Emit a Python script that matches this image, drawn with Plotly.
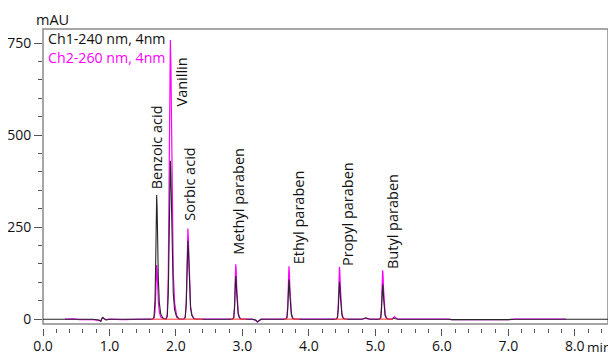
import plotly.graph_objects as go

# ---------------- data ----------------
# Ch1 (240 nm) chromatogram: time (min), absorbance (mAU)
ch1_base_start_t = [0.0, 0.33, 0.45, 0.55, 0.65, 0.75, 0.84, 0.87, 0.885, 0.90, 0.92, 0.95, 1.0, 1.1, 1.2, 1.5, 1.6]
ch1_base_start_v = [0, 0, -1, 1, -1, 0, -2, -5, 2, 5, 1, -2, 0, -1, 0, 0, 0]
ch1_benzoic_t = [1.65, 1.67, 1.685, 1.695, 1.703, 1.71, 1.717, 1.725, 1.735, 1.75, 1.77, 1.80, 1.83]
ch1_benzoic_v = [0, 6, 50, 150, 280, 337, 300, 200, 110, 45, 15, 4, 0]
ch1_vanillin_t = [1.85, 1.87, 1.885, 1.897, 1.907, 1.916, 1.924, 1.933, 1.945, 1.96, 1.98, 2.01, 2.05]
ch1_vanillin_v = [0, 8, 70, 210, 360, 430, 390, 280, 160, 70, 25, 6, 0]
ch1_sorbic_t = [2.12, 2.14, 2.155, 2.165, 2.173, 2.18, 2.187, 2.196, 2.207, 2.22, 2.24, 2.27, 2.30, 2.4, 2.6]
ch1_sorbic_v = [0, 5, 40, 110, 180, 213, 190, 130, 70, 30, 10, 2, 0, 0, 0]
ch1_methyl_t = [2.85, 2.87, 2.882, 2.89, 2.896, 2.90, 2.906, 2.914, 2.924, 2.937, 2.955, 2.98]
ch1_methyl_v = [0, 4, 30, 75, 105, 117, 105, 70, 35, 14, 4, 0]
ch1_dip_t = [3.15, 3.2, 3.225, 3.25, 3.28]
ch1_dip_v = [0, -2, -7, -3, 0]
ch1_ethyl_t = [3.65, 3.67, 3.682, 3.69, 3.696, 3.70, 3.706, 3.714, 3.724, 3.737, 3.755, 3.78]
ch1_ethyl_v = [0, 4, 28, 70, 98, 108, 97, 65, 32, 12, 3, 0]
ch1_propyl_t = [4.41, 4.43, 4.442, 4.45, 4.456, 4.46, 4.466, 4.474, 4.484, 4.497, 4.515, 4.54]
ch1_propyl_v = [0, 4, 26, 65, 92, 101, 91, 61, 30, 11, 3, 0]
ch1_bump_t = [4.80, 4.84, 4.86, 4.88, 4.92]
ch1_bump_v = [0, 2, 4, 2, 0]
ch1_butyl_t = [5.06, 5.08, 5.092, 5.10, 5.106, 5.11, 5.116, 5.124, 5.134, 5.147, 5.165, 5.19]
ch1_butyl_v = [0, 3, 24, 61, 85, 94, 85, 57, 28, 10, 3, 0]
ch1_end_t = [5.25, 5.28, 5.30, 5.34, 6.1, 6.15, 7.0, 7.1, 8.5]
ch1_end_v = [0, 3, 1, 0, 0, -1, -1, 0, 0]

# Ch2 (260 nm) chromatogram
ch2_base_start_t = [0.33, 0.45, 0.55, 0.65, 0.75, 0.84, 0.87, 0.885, 0.90, 0.92, 0.95, 1.0, 1.2, 1.5, 1.6]
ch2_base_start_v = [0, 1, -1, 0, -1, -3, -6, 1, 4, 1, -1, 0, -1, 0, 0]
ch2_benzoic_t = [1.65, 1.67, 1.685, 1.695, 1.703, 1.71, 1.717, 1.725, 1.735, 1.75, 1.77, 1.80, 1.83]
ch2_benzoic_v = [0, 3, 22, 65, 122, 147, 131, 87, 48, 20, 6, 2, 0]
ch2_vanillin_t = [1.85, 1.87, 1.885, 1.897, 1.907, 1.916, 1.924, 1.933, 1.945, 1.96, 1.98, 2.01, 2.05]
ch2_vanillin_v = [0, 14, 125, 370, 635, 758, 690, 495, 280, 125, 45, 10, 0]
ch2_sorbic_t = [2.12, 2.14, 2.155, 2.165, 2.173, 2.18, 2.187, 2.196, 2.207, 2.22, 2.24, 2.27, 2.30, 2.4, 2.6]
ch2_sorbic_v = [0, 6, 46, 127, 208, 246, 220, 150, 81, 35, 12, 2, 0, 0, 0]
ch2_methyl_t = [2.85, 2.87, 2.882, 2.89, 2.896, 2.90, 2.906, 2.914, 2.924, 2.937, 2.955, 2.98]
ch2_methyl_v = [0, 5, 38, 96, 134, 149, 134, 89, 45, 18, 5, 0]
ch2_dip_t = [3.15, 3.2, 3.225, 3.25, 3.28]
ch2_dip_v = [0, -3, -8, -3, 0]
ch2_ethyl_t = [3.65, 3.67, 3.682, 3.69, 3.696, 3.70, 3.706, 3.714, 3.724, 3.737, 3.755, 3.78]
ch2_ethyl_v = [0, 5, 37, 93, 131, 144, 129, 87, 43, 16, 4, 0]
ch2_propyl_t = [4.41, 4.43, 4.442, 4.45, 4.456, 4.46, 4.466, 4.474, 4.484, 4.497, 4.515, 4.54]
ch2_propyl_v = [0, 5, 37, 91, 129, 142, 128, 86, 42, 15, 4, 0]
ch2_bump_t = [4.80, 4.84, 4.86, 4.88, 4.92]
ch2_bump_v = [0, 1, 3, 1, 0]
ch2_butyl_t = [5.06, 5.08, 5.092, 5.10, 5.106, 5.11, 5.116, 5.124, 5.134, 5.147, 5.165, 5.19]
ch2_butyl_v = [0, 4, 34, 86, 120, 133, 120, 80, 40, 14, 4, 0]
ch2_end_t = [5.25, 5.27, 5.29, 5.31, 5.34, 6.1, 6.15, 7.0, 7.1, 7.87]
ch2_end_v = [0, 4, 7, 3, 0, 0, -1, -1, 0, 0]

# integration baselines (start, end) in min
integration_start = [1.63, 2.83, 3.63, 4.39, 5.06]
integration_end = [2.40, 3.06, 3.86, 4.58, 5.26]

# peak labels: name, label time (min), label bottom (mAU)
peak_names = ["Benzoic acid", "Vanillin", "Sorbic acid", "Methyl paraben",
              "Ethyl paraben", "Propyl paraben", "Butyl paraben"]
label_time = [1.70, 2.09, 2.20, 2.94, 3.84, 4.59, 5.26]
label_mau = [350, 576, 264, 172, 147, 142, 134]

legend_texts = ["Ch1-240 nm, 4nm", "Ch2-260 nm, 4nm"]
x_range = [0, 8.5]
y_range = [-13, 788]

# ---------------- assemble series ----------------
ch1_t = (ch1_base_start_t + ch1_benzoic_t + ch1_vanillin_t + ch1_sorbic_t + ch1_methyl_t
         + ch1_dip_t + ch1_ethyl_t + ch1_propyl_t + ch1_bump_t + ch1_butyl_t + ch1_end_t)
ch1_v = (ch1_base_start_v + ch1_benzoic_v + ch1_vanillin_v + ch1_sorbic_v + ch1_methyl_v
         + ch1_dip_v + ch1_ethyl_v + ch1_propyl_v + ch1_bump_v + ch1_butyl_v + ch1_end_v)
ch2_t = (ch2_base_start_t + ch2_benzoic_t + ch2_vanillin_t + ch2_sorbic_t + ch2_methyl_t
         + ch2_dip_t + ch2_ethyl_t + ch2_propyl_t + ch2_bump_t + ch2_butyl_t + ch2_end_t)
ch2_v = (ch2_base_start_v + ch2_benzoic_v + ch2_vanillin_v + ch2_sorbic_v + ch2_methyl_v
         + ch2_dip_v + ch2_ethyl_v + ch2_propyl_v + ch2_bump_v + ch2_butyl_v + ch2_end_v)

red_t, red_v = [], []
for s, e in zip(integration_start, integration_end):
    red_t += [s, e, None]
    red_v += [0, 0, None]

FONT = "Open Sans"
TXT = "#111111"
MAG = "#ff00ff"
GRAY = "#8a8a8a"

fig = go.Figure()
fig.add_trace(go.Scatter(x=ch2_t, y=ch2_v, mode="lines", line=dict(color=MAG, width=1.2),
                         hoverinfo="skip", showlegend=False))
fig.add_trace(go.Scatter(x=ch1_t, y=ch1_v, mode="lines", line=dict(color="#262626", width=1.1),
                         hoverinfo="skip", showlegend=False))
fig.add_trace(go.Scatter(x=red_t, y=red_v, mode="lines", line=dict(color="rgba(255,70,70,0.75)", width=1.6),
                         hoverinfo="skip", showlegend=False))

ydom0 = 4 / 299
annotations = []
for name, t, v in zip(peak_names, label_time, label_mau):
    annotations.append(dict(x=t, y=v, xref="x", yref="y", text=name, textangle=-90,
                            showarrow=False, xanchor="center", yanchor="bottom",
                            font=dict(family=FONT, size=14.5, color=TXT), borderpad=0))
annotations.append(dict(x=0.007, y=0.9666, xref="paper", yref="paper", text=legend_texts[0],
                        showarrow=False, xanchor="left", yanchor="middle",
                        font=dict(family=FONT, size=14.2, color=TXT), borderpad=0))
annotations.append(dict(x=0.007, y=0.906, xref="paper", yref="paper", text=legend_texts[1],
                        showarrow=False, xanchor="left", yanchor="middle",
                        font=dict(family=FONT, size=14.2, color=MAG), borderpad=0))
annotations.append(dict(x=-0.0142, y=1.0334, xref="paper", yref="paper", text="mAU",
                        showarrow=False, xanchor="left", yanchor="middle",
                        font=dict(family=FONT, size=14.5, color=TXT), borderpad=0))
annotations.append(dict(x=0.961, y=-0.0635, xref="paper", yref="paper", text="min",
                        showarrow=False, xanchor="left", yanchor="middle",
                        font=dict(family=FONT, size=13.5, color=TXT), borderpad=0))

# the page body adds an 8px offset, so the figure is 8px smaller than the window
fig.update_layout(
    width=608, height=346,
    margin=dict(l=35, r=8, t=21, b=26, autoexpand=False),
    paper_bgcolor="white", plot_bgcolor="white",
    font=dict(family=FONT, size=14, color=TXT),
    showlegend=False,
    annotations=annotations,
    shapes=[dict(type="rect", xref="paper", yref="paper", x0=0, x1=1, y0=ydom0, y1=1,
                 line=dict(color=GRAY, width=1.5), fillcolor="rgba(0,0,0,0)", layer="below")],
    xaxis=dict(range=x_range, anchor="free", position=0, showline=False, showgrid=False,
               zeroline=False, ticks="outside", ticklen=7, tickwidth=1, tickcolor="#555",
               tick0=0, dtick=1, tickformat=".1f", ticklabelstandoff=-2,
               minor=dict(dtick=0.2, tick0=0, ticks="outside", ticklen=4, tickcolor="#555", showgrid=False),
               tickfont=dict(family=FONT, size=14, color=TXT)),
    yaxis=dict(range=y_range, domain=[ydom0, 1], anchor="x", showline=False, showgrid=False,
               zeroline=False, ticks="outside", ticklen=8, tickwidth=1, tickcolor="#555",
               tick0=0, dtick=250,
               minor=dict(dtick=50, tick0=0, ticks="outside", ticklen=4, tickcolor="#555", showgrid=False),
               tickfont=dict(family=FONT, size=14, color=TXT)),
)

# hide page scrollbars so the right edge of the figure is not covered
fig.write_html("out.html",
               post_script="document.documentElement.style.overflow='hidden';document.body.style.overflow='hidden';")
